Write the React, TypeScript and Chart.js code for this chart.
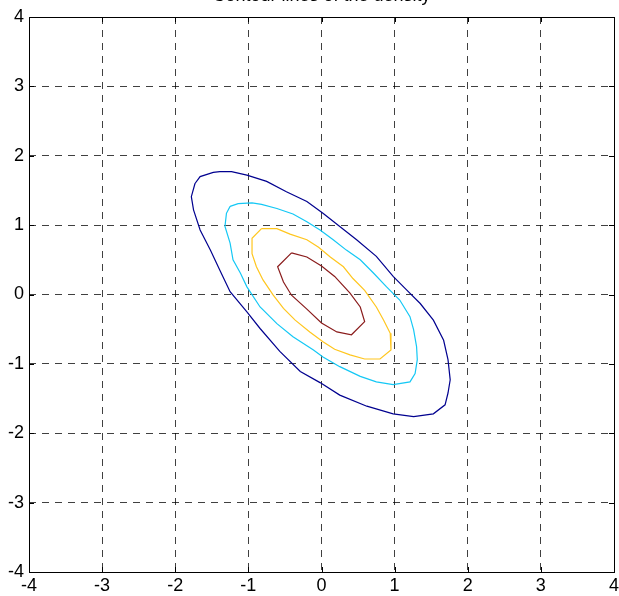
import React, { useEffect, useRef } from "react";
import { Chart, registerables } from "chart.js";

Chart.register(...registerables);

const titleText = "Contour lines of the density";
const tickValues = [-4, -3, -2, -1, 0, 1, 2, 3, 4];

const outerX = [-1.73, -1.66, -1.48, -1.39, -1.23, -1.02, -0.75, -0.48, -0.2, 0.02, 0.25, 0.48, 0.75, 0.98, 1.17, 1.35, 1.53, 1.67, 1.73, 1.76, 1.73, 1.69, 1.53, 1.26, 0.98, 0.62, 0.25, -0.02, -0.29, -0.57, -0.84, -1.02, -1.25, -1.39, -1.52, -1.66, -1.75, -1.78];
const outerY = [1.6, 1.7, 1.76, 1.77, 1.77, 1.72, 1.63, 1.48, 1.34, 1.17, 0.98, 0.79, 0.55, 0.26, 0.06, -0.13, -0.37, -0.66, -0.94, -1.23, -1.42, -1.59, -1.72, -1.76, -1.72, -1.61, -1.45, -1.27, -1.11, -0.82, -0.49, -0.25, 0.04, 0.35, 0.64, 0.93, 1.22, 1.41];

const cyanX = [-1.25, -1.14, -0.95, -0.82, -0.61, -0.39, -0.2, -0.02, 0.16, 0.34, 0.53, 0.71, 0.89, 1.07, 1.21, 1.26, 1.3, 1.31, 1.28, 1.21, 0.98, 0.75, 0.53, 0.25, 0.02, -0.11, -0.39, -0.61, -0.84, -1.02, -1.11, -1.21, -1.25, -1.32, -1.3];
const cyanY = [1.27, 1.31, 1.32, 1.3, 1.24, 1.16, 1.05, 0.93, 0.79, 0.64, 0.5, 0.31, 0.11, -0.08, -0.32, -0.51, -0.75, -0.94, -1.14, -1.26, -1.3, -1.26, -1.18, -1.04, -0.9, -0.8, -0.61, -0.42, -0.18, 0.11, 0.31, 0.5, 0.74, 0.98, 1.17];

const yellowX = [-0.82, -0.61, -0.43, -0.2, -0.04, 0.12, 0.3, 0.43, 0.59, 0.75, 0.85, 0.94, 0.95, 0.8, 0.59, 0.39, 0.18, 0.02, -0.16, -0.36, -0.52, -0.66, -0.8, -0.89, -0.95, -0.95];
const yellowY = [0.95, 0.95, 0.87, 0.79, 0.68, 0.54, 0.4, 0.23, 0.06, -0.18, -0.37, -0.56, -0.8, -0.93, -0.93, -0.87, -0.79, -0.68, -0.54, -0.37, -0.2, -0.01, 0.21, 0.4, 0.59, 0.81];

const innerX = [-0.41, -0.2, 0.0, 0.18, 0.39, 0.53, 0.59, 0.41, 0.21, 0.0, -0.2, -0.41, -0.52, -0.6];
const innerY = [0.6, 0.54, 0.41, 0.26, 0.02, -0.18, -0.39, -0.58, -0.54, -0.41, -0.21, -0.01, 0.18, 0.4];

const levelColors = ["#00008F", "#14C8F5", "#FFC61E", "#8A1C1C"];
const levelXs = [outerX, cyanX, yellowX, innerX];
const levelYs = [outerY, cyanY, yellowY, innerY];

const FONT = '"Liberation Sans", Arial, Helvetica, sans-serif';

function closedPoints(xs: number[], ys: number[]) {
  const pts = xs.map((x, i) => ({ x, y: ys[i] }));
  pts.push({ x: xs[0], y: ys[0] });
  return pts;
}

const boxPlugin = {
  id: "matlabBox",
  afterDatasetsDraw(chart: any) {
    const { ctx, chartArea, scales } = chart;
    const { left, right, top, bottom } = chartArea;
    ctx.save();
    ctx.strokeStyle = "#000";
    ctx.lineWidth = 1;
    ctx.setLineDash([]);
    ctx.beginPath();
    const tl = 5;
    tickValues.forEach((v) => {
      const px = Math.round(scales.x.getPixelForValue(v)) + 0.5;
      ctx.moveTo(px, bottom);
      ctx.lineTo(px, bottom - tl);
      ctx.moveTo(px, top);
      ctx.lineTo(px, top + tl);
      const py = Math.round(scales.y.getPixelForValue(v)) + 0.5;
      ctx.moveTo(left, py);
      ctx.lineTo(left + tl, py);
      ctx.moveTo(right, py);
      ctx.lineTo(right - tl, py);
    });
    ctx.stroke();
    ctx.strokeRect(Math.round(left) + 0.5, Math.round(top) + 0.5, Math.round(right - left), Math.round(bottom - top));
    ctx.restore();
  },
  afterDraw(chart: any) {
    const { ctx, chartArea } = chart;
    ctx.save();
    ctx.fillStyle = "#000";
    ctx.font = `18px ${FONT}`;
    ctx.textAlign = "center";
    ctx.textBaseline = "alphabetic";
    ctx.fillText(titleText, (chartArea.left + chartArea.right) / 2, 1);
    ctx.restore();
  },
};

export default function App() {
  const ref = useRef<HTMLCanvasElement | null>(null);
  useEffect(() => {
    if (!ref.current) return;
    const datasets = levelXs.map((xs, i) => ({
      label: `level ${i + 1}`,
      data: closedPoints(xs, levelYs[i]),
      showLine: true,
      borderColor: levelColors[i],
      backgroundColor: levelColors[i],
      borderWidth: 1.2,
      pointRadius: 0,
      tension: 0,
      fill: false,
    }));
    const gridOpts = {
      color: "rgba(0,0,0,0.75)",
      lineWidth: 1,
      drawTicks: false,
    };
    const tickFont = { family: FONT, size: 18 };
    const chart = new Chart(ref.current, {
      type: "scatter",
      data: { datasets },
      plugins: [boxPlugin],
      options: {
        animation: false,
        responsive: false,
        maintainAspectRatio: false,
        layout: { padding: { top: 17, right: 5, left: 0, bottom: 0 } },
        plugins: { legend: { display: false }, tooltip: { enabled: false }, title: { display: false } },
        scales: {
          x: {
            type: "linear",
            min: -4,
            max: 4,
            afterBuildTicks: (scale: any) => {
              scale.ticks = tickValues.map((v) => ({ value: v }));
            },
            afterFit: (scale: any) => {
              scale.height = 24;
              scale.paddingLeft = 0;
              scale.paddingRight = 0;
            },
            grid: gridOpts,
            border: { display: false, dash: [7, 6] },
            ticks: { color: "#000", font: tickFont, padding: 3, autoSkip: false, maxRotation: 0 },
          },
          y: {
            type: "linear",
            min: -4,
            max: 4,
            afterBuildTicks: (scale: any) => {
              scale.ticks = tickValues.map((v) => ({ value: v }));
            },
            afterFit: (scale: any) => {
              scale.width = 29;
              scale.paddingTop = 0;
              scale.paddingBottom = 0;
            },
            grid: gridOpts,
            border: { display: false, dash: [7, 6] },
            ticks: { color: "#000", font: tickFont, padding: 5, autoSkip: false },
          },
        },
      },
    });
    return () => chart.destroy();
  }, []);
  return (
    <div style={{ position: "fixed", left: 0, top: 0, width: 619, height: 596, background: "#fff" }}>
      <canvas ref={ref} width={619} height={596} style={{ display: "block" }} />
    </div>
  );
}
